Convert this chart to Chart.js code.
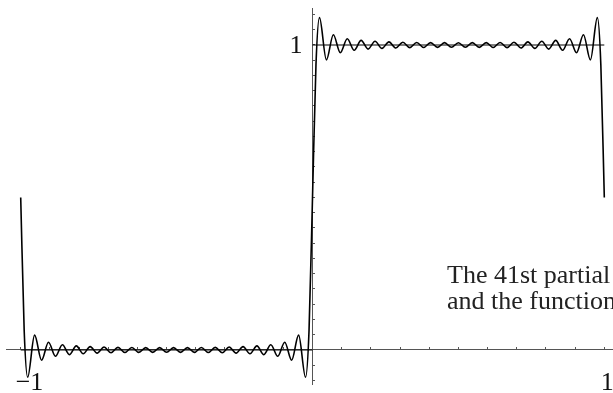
<!DOCTYPE html>
<html>
<head>
<meta charset="utf-8">
<script src="https://cdn.jsdelivr.net/npm/chart.js@4/dist/chart.umd.min.js"></script>
<style>
  html, body { margin: 0; padding: 0; background: #fff; }
  canvas { display: block; }
</style>
</head>
<body>
<canvas id="c" width="613" height="393"></canvas>
<script>
// 41st partial sum of the Fourier series of the unit step on [-1, 1]:
// its turning points, plus the points around the jumps at 0 and at ±1.
const sumX = [
  -1, -0.9881, -0.97619, -0.95238, -0.92857, -0.90476, -0.88095, -0.85714,
  -0.83333, -0.80952, -0.78571, -0.7619, -0.7381, -0.71429, -0.69048, -0.66667,
  -0.64286, -0.61905, -0.59524, -0.57143, -0.54762, -0.52381, -0.5, -0.47619,
  -0.45238, -0.42857, -0.40476, -0.38095, -0.35714, -0.33333, -0.30952, -0.28571,
  -0.2619, -0.2381, -0.21429, -0.19048, -0.16667, -0.14286, -0.11905, -0.09524,
  -0.07143, -0.04762, -0.02381, -0.0119, 0,
  0.0119, 0.02381, 0.04762, 0.07143, 0.09524, 0.11905, 0.14286, 0.16667,
  0.19048, 0.21429, 0.2381, 0.2619, 0.28571, 0.30952, 0.33333, 0.35714,
  0.38095, 0.40476, 0.42857, 0.45238, 0.47619, 0.5, 0.52381, 0.54762,
  0.57143, 0.59524, 0.61905, 0.64286, 0.66667, 0.69048, 0.71429, 0.7381,
  0.7619, 0.78571, 0.80952, 0.83333, 0.85714, 0.88095, 0.90476, 0.92857,
  0.95238, 0.97619, 0.9881, 1
];
const sumY = [
  0.5, 0.0637, -0.0896, 0.0488, -0.0334, 0.0254, -0.0206, 0.0174,
  -0.0151, 0.0134, -0.0121, 0.0111, -0.0103, 0.0097, -0.0092, 0.0087,
  -0.0084, 0.0081, -0.0079, 0.0078, -0.0077, 0.0076, -0.0076, 0.0076,
  -0.0077, 0.0078, -0.0079, 0.0081, -0.0084, 0.0087, -0.0092, 0.0097,
  -0.0103, 0.0111, -0.0121, 0.0134, -0.0151, 0.0174, -0.0206, 0.0254,
  -0.0334, 0.0488, -0.0896, 0.0637, 0.5,
  0.9363, 1.0896, 0.9512, 1.0334, 0.9746, 1.0206, 0.9826, 1.0151,
  0.9866, 1.0121, 0.9889, 1.0103, 0.9903, 1.0092, 0.9913, 1.0084,
  0.9919, 1.0079, 0.9922, 1.0077, 0.9924, 1.0076, 0.9924, 1.0077,
  0.9922, 1.0079, 0.9919, 1.0084, 0.9913, 1.0092, 0.9903, 1.0103,
  0.9889, 1.0121, 0.9866, 1.0151, 0.9826, 1.0206, 0.9746, 1.0334,
  0.9512, 1.0896, 0.9363, 0.5
];

// The step function itself: 0 left of the origin, 1 right of it
const stepLowX = [-1, 0];
const stepLowY = [0, 0];
const stepHighX = [0, 1];
const stepHighY = [1, 1];

// Tick marks and the few labelled ticks
const xTicks = [-1, -0.9, -0.8, -0.7, -0.6, -0.5, -0.4, -0.3, -0.2, -0.1,
                0.1, 0.2, 0.3, 0.4, 0.5, 0.6, 0.7, 0.8, 0.9, 1];
const yTicks = [-0.1, -0.05, 0.05, 0.1, 0.15, 0.2, 0.25, 0.3, 0.35, 0.4, 0.45,
                0.5, 0.55, 0.6, 0.65, 0.7, 0.75, 0.8, 0.85, 0.9, 0.95, 1, 1.05, 1.1];
const xLabelValues = [-1, 1];
const xLabelTexts = ['\u22121', '1'];
const yLabelValues = [1];
const yLabelTexts = ['1'];

const captionLines = ['The 41st partial', 'and the function'];

const pts = (xs, ys) => xs.map((x, i) => ({ x: x, y: ys[i] }));

const SERIF = '"Liberation Serif", "Times New Roman", serif';
const AXIS = '#555';

// Axis labels and the caption, placed through the chart's scales
const labelsPlugin = {
  id: 'labelsPlugin',
  afterDraw(chart) {
    const { ctx, scales: { x, y } } = chart;
    const x0 = x.getPixelForValue(0);
    const y0 = y.getPixelForValue(0);
    ctx.save();
    ctx.fillStyle = '#111';
    ctx.font = '26px ' + SERIF;
    ctx.textBaseline = 'alphabetic';
    xLabelValues.forEach((v, i) => {
      const px = x.getPixelForValue(v);
      if (v < 0) {
        ctx.textAlign = 'left';
        ctx.fillText(xLabelTexts[i], px - 5, y0 + 40);
      } else {
        ctx.textAlign = 'center';
        ctx.fillText(xLabelTexts[i], px + 3, y0 + 40);
      }
    });
    yLabelValues.forEach((v, i) => {
      ctx.textAlign = 'center';
      ctx.fillText(yLabelTexts[i], x0 - 16.5, y.getPixelForValue(v) + 8.5);
    });
    ctx.fillStyle = '#222';
    ctx.textAlign = 'left';
    captionLines.forEach((line, i) => {
      ctx.fillText(line, 447, 283 + i * 26);
    });
    ctx.restore();
  }
};

new Chart(document.getElementById('c'), {
  type: 'line',
  data: {
    datasets: [
      {
        data: pts(sumX, sumY),
        borderColor: '#000',
        borderWidth: 1.6,
        cubicInterpolationMode: 'monotone',
        clip: false
      },
      {
        data: pts(stepLowX, stepLowY),
        borderColor: '#000',
        borderWidth: 1,
        clip: false
      },
      {
        data: pts(stepHighX, stepHighY),
        borderColor: '#000',
        borderWidth: 1.2,
        clip: false
      }
    ]
  },
  options: {
    responsive: false,
    animation: false,
    devicePixelRatio: 1,
    layout: { padding: { left: 6, top: 8, right: 0, bottom: 9 } },
    elements: { point: { radius: 0 }, line: { tension: 0 } },
    plugins: { legend: { display: false }, tooltip: { enabled: false } },
    scales: {
      x: {
        type: 'linear',
        min: -1.0504,
        max: 1.0298,
        position: { y: 0 },
        afterBuildTicks: s => { s.ticks = xTicks.map(v => ({ value: v })); },
        afterFit: s => { s.height = 0; },
        ticks: { display: false },
        grid: { drawOnChartArea: false, drawTicks: true, tickLength: -3, tickColor: AXIS, tickWidth: 1 },
        border: { display: true, color: AXIS, width: 1 }
      },
      y: {
        type: 'linear',
        min: -0.1115,
        max: 1.1213,
        position: { x: 0 },
        afterBuildTicks: s => { s.ticks = yTicks.map(v => ({ value: v })); },
        afterFit: s => { s.width = 0; },
        ticks: { display: false },
        grid: { drawOnChartArea: false, drawTicks: true, tickLength: -3, tickColor: AXIS, tickWidth: 1 },
        border: { display: true, color: AXIS, width: 1 }
      }
    }
  },
  plugins: [labelsPlugin]
});
</script>
</body>
</html>
